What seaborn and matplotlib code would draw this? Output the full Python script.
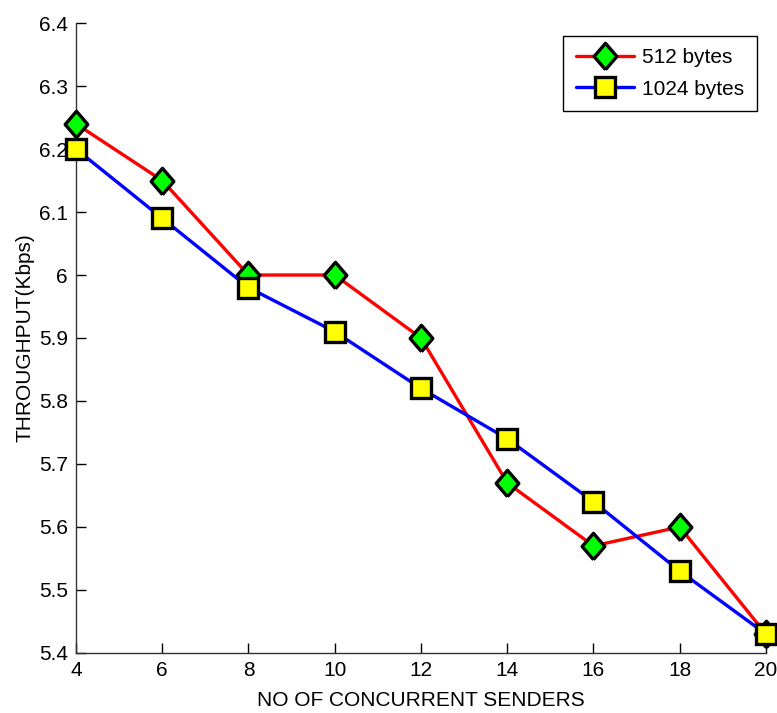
import matplotlib
matplotlib.use("Agg")
import matplotlib.pyplot as plt
import seaborn as sns
import pandas as pd

senders = [4, 6, 8, 10, 12, 14, 16, 18, 20]
tp_512 = [6.24, 6.15, 6.00, 6.00, 5.90, 5.67, 5.57, 5.60, 5.43]
tp_1024 = [6.20, 6.09, 5.98, 5.91, 5.82, 5.74, 5.64, 5.53, 5.43]
yticks = [5.4, 5.5, 5.6, 5.7, 5.8, 5.9, 6.0, 6.1, 6.2, 6.3, 6.4]
ytick_labels = ["5.4", "5.5", "5.6", "5.7", "5.8", "5.9", "6", "6.1", "6.2", "6.3", "6.4"]

sns.set_style("white")
plt.rcParams['font.family'] = ['Liberation Sans', 'DejaVu Sans']
plt.rcParams['text.color'] = 'black'
plt.rcParams['axes.labelcolor'] = 'black'

fig = plt.figure(figsize=(7.77, 7.13), dpi=100)
ax = fig.add_axes([0.0978, 0.0842, 0.888, 0.8835])

df512 = pd.DataFrame({"x": senders, "y": tp_512})
df1024 = pd.DataFrame({"x": senders, "y": tp_1024})

diamond = [(0, -1), (0.86, 0), (0, 1), (-0.86, 0), (0, -1)]

sns.lineplot(data=df512, x="x", y="y", ax=ax, color="red", lw=2.4,
             marker=diamond, markersize=19, markerfacecolor="#00ff00",
             markeredgecolor="black", markeredgewidth=2.4, label="512 bytes",
             clip_on=False, zorder=3)
sns.lineplot(data=df1024, x="x", y="y", ax=ax, color="blue", lw=2.4,
             marker="s", markersize=14, markerfacecolor="yellow",
             markeredgecolor="black", markeredgewidth=2.4, label="1024 bytes",
             clip_on=False, zorder=3)

ax.set_xlim(4, 20)
ax.set_ylim(5.4, 6.4)
ax.set_xticks(senders)
ax.set_xticklabels([str(s) for s in senders])
ax.set_yticks(yticks)
ax.set_yticklabels(ytick_labels)
ax.tick_params(bottom=True, left=True, direction="in", length=7, width=1,
               labelsize=15, colors="black", labelcolor="black", pad=6)
for s in ["top", "right"]:
    ax.spines[s].set_visible(False)
for s in ["left", "bottom"]:
    ax.spines[s].set_color("#333333")
    ax.spines[s].set_linewidth(1)

ax.set_xlabel("NO OF CONCURRENT SENDERS", fontsize=15, labelpad=8, color="black")
ax.set_ylabel("THROUGHPUT(Kbps)", fontsize=15, labelpad=3, color="black")

leg = ax.legend(loc="upper right", bbox_to_anchor=(0.987, 0.98), fontsize=15,
                frameon=True, fancybox=False, edgecolor="black", framealpha=1,
                handlelength=2.8, borderpad=0.6, labelspacing=0.6,
                handletextpad=0.4, borderaxespad=0)
leg.get_frame().set_linewidth(1)
for t in leg.get_texts():
    t.set_color("black")

fig.savefig("out.png", dpi=100)
